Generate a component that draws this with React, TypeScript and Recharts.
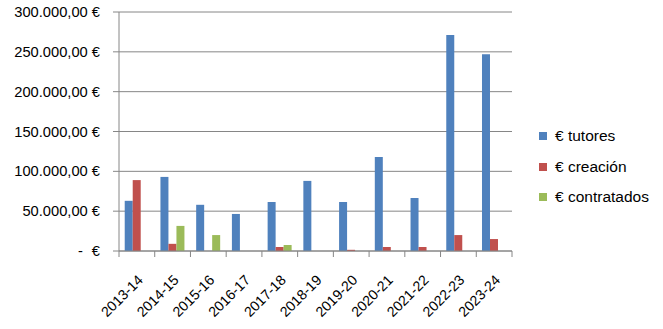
import React from "react";
import { BarChart, Bar, XAxis, YAxis, CartesianGrid } from "recharts";

const categories = ["2013-14", "2014-15", "2015-16", "2016-17", "2017-18", "2018-19", "2019-20", "2020-21", "2021-22", "2022-23", "2023-24"];
const tutores = [63000, 93000, 58000, 46500, 61500, 88000, 61500, 118000, 66500, 271000, 247000];
const creacion = [89000, 9000, 0, 0, 5000, 0, 1500, 5000, 5000, 20000, 15000];
const contratados = [0, 31500, 20000, 0, 7500, 0, 0, 0, 0, 0, 0];
const yTicks = [0, 50000, 100000, 150000, 200000, 250000, 300000];

const series = [
  { key: "tutores", name: "€ tutores", color: "#4F81BD" },
  { key: "creacion", name: "€ creación", color: "#C0504D" },
  { key: "contratados", name: "€ contratados", color: "#9BBB59" },
];

const data = categories.map((c, i) => ({
  cat: c,
  tutores: tutores[i],
  creacion: creacion[i],
  contratados: contratados[i],
}));

const FONT = "'Liberation Sans', Arial, sans-serif";
const FS = 14.7;
const GRID = "#868686";

function fmt(v: number): string {
  const s = Math.round(v).toString().replace(/\B(?=(\d{3})+(?!\d))/g, ".");
  return s + ",00 €";
}

const YTick = (props: any) => {
  const { x, y, payload } = props;
  if (payload.value === 0) {
    return (
      <g>
        <text x={x} y={y} dy={5} textAnchor="end" fontFamily={FONT} fontSize={FS} fill="#000">€</text>
        <text x={x - 17} y={y} dy={5} textAnchor="end" fontFamily={FONT} fontSize={FS} fill="#000">-</text>
      </g>
    );
  }
  return (
    <text x={x} y={y} dy={5} textAnchor="end" fontFamily={FONT} fontSize={FS} fill="#000">
      {fmt(payload.value)}
    </text>
  );
};

const XTick = (props: any) => {
  const { x, y, payload, index, visibleTicksCount } = props;
  const half = payload.offset || 0;
  const axisY = y - 8;
  const isLast = index === (visibleTicksCount ?? categories.length) - 1;
  return (
    <g>
      <line x1={x - half} x2={x - half} y1={axisY} y2={axisY + 6} stroke={GRID} />
      {isLast && <line x1={x + half} x2={x + half} y1={axisY} y2={axisY + 6} stroke={GRID} />}
      <g transform={`translate(${x + 7},${axisY + 30})`}>
        <text transform="rotate(-45)" textAnchor="end" fontFamily={FONT} fontSize={14.2} fill="#000">
          {payload.value}
        </text>
      </g>
    </g>
  );
};

export default function App() {
  return (
    <div style={{ position: "absolute", left: 0, top: 0, width: 663, height: 329, background: "#fff" }}>
      <BarChart
        width={663}
        height={329}
        data={data}
        margin={{ top: 12, right: 151, bottom: 0, left: 0 }}
        barCategoryGap="16%"
        barGap={0}
      >
        <CartesianGrid vertical={false} stroke={GRID} strokeWidth={1} />
        <XAxis
          dataKey="cat"
          height={78}
          tickSize={6}
          tickMargin={2}
          tickLine={false}
          axisLine={{ stroke: GRID }}
          tick={<XTick />}
          interval={0}
        />
        <YAxis
          width={119}
          domain={[0, 300000]}
          ticks={yTicks}
          tickSize={6}
          tickMargin={13}
          tickLine={{ stroke: GRID }}
          axisLine={{ stroke: GRID }}
          tick={<YTick />}
          interval={0}
        />
        {series.map((s) => (
          <Bar key={s.key} dataKey={s.key} name={s.name} fill={s.color} isAnimationActive={false} />
        ))}
      </BarChart>
      <div style={{ position: "absolute", left: 539, top: 121, fontFamily: FONT, fontSize: 15.5, color: "#000" }}>
        {series.map((s) => (
          <div key={s.key} style={{ display: "flex", alignItems: "center", height: 30.5 }}>
            <div style={{ width: 8, height: 8, background: s.color, marginRight: 8 }} />
            <span>{s.name}</span>
          </div>
        ))}
      </div>
    </div>
  );
}
